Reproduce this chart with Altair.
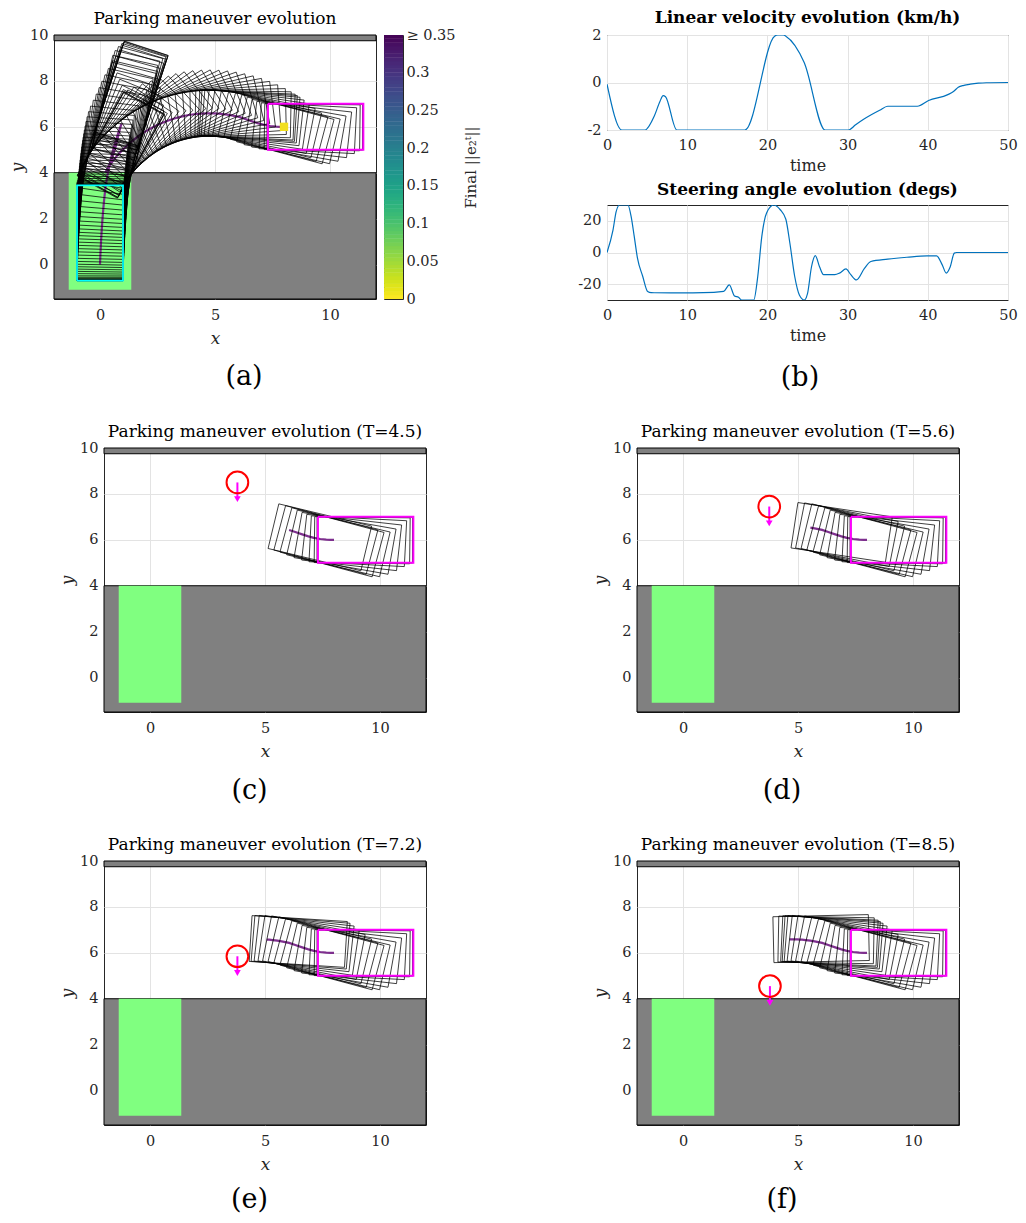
import math
import altair as alt
import pandas as pd

FONT = "DejaVu Serif"
INK = "#262626"
GRID = "#e3e3e3"

# ---------------- data ----------------
# car reference-point poses every 0.5 s (t = 0 ... 50)
pose_x = [8.000, 7.963, 7.850, 7.663, 7.401, 7.126, 6.854, 6.585, 6.317, 6.048,
          5.777, 5.539, 5.334, 5.177, 5.074, 4.992, 4.846, 4.631, 4.357, 4.081,
          3.806, 3.535, 3.266, 3.002, 2.743, 2.489, 2.242, 2.002, 1.769, 1.545,
          1.329, 1.122, 0.923, 0.736, 0.562, 0.406, 0.302, 0.242, 0.220, 0.235,
          0.284, 0.366, 0.470, 0.568, 0.651, 0.720, 0.776, 0.824, 0.867, 0.906,
          0.934, 0.939, 0.919, 0.874, 0.804, 0.717, 0.636, 0.561, 0.493, 0.430,
          0.372, 0.320, 0.277, 0.242, 0.214, 0.191, 0.170, 0.153, 0.139, 0.126,
          0.114, 0.103, 0.094, 0.084, 0.076, 0.066, 0.059, 0.050, 0.043, 0.036,
          0.030, 0.025, 0.020, 0.016, 0.012, 0.008, 0.006, 0.004, 0.003, 0.002,
          0.001, 0.000, 0.000, 0.000, 0.000, 0.000, 0.000, 0.000, 0.000, 0.000,
          0.000]
pose_y = [6.000, 6.000, 6.001, 6.009, 6.036, 6.088, 6.161, 6.250, 6.343, 6.431,
          6.490, 6.530, 6.557, 6.572, 6.579, 6.583, 6.588, 6.588, 6.575, 6.547,
          6.504, 6.447, 6.375, 6.290, 6.190, 6.077, 5.950, 5.811, 5.659, 5.495,
          5.319, 5.135, 4.941, 4.735, 4.519, 4.297, 4.132, 4.028, 3.989, 4.015,
          4.108, 4.268, 4.502, 4.762, 5.027, 5.292, 5.531, 5.737, 5.906, 6.041,
          6.129, 6.145, 6.089, 5.961, 5.761, 5.494, 5.226, 4.956, 4.685, 4.412,
          4.139, 3.869, 3.613, 3.370, 3.140, 2.926, 2.725, 2.537, 2.364, 2.205,
          2.059, 1.920, 1.781, 1.642, 1.504, 1.365, 1.226, 1.087, 0.948, 0.815,
          0.695, 0.588, 0.486, 0.388, 0.295, 0.207, 0.146, 0.100, 0.071, 0.049,
          0.033, 0.023, 0.015, 0.009, 0.006, 0.004, 0.003, 0.002, 0.001, 0.000,
          0.000]
pose_th = [0.0, -0.07, -0.73, -2.92, -6.39, -10.07, -13.32, -15.03, -14.81, -13.52,
           -11.24, -8.66, -6.41, -4.68, -3.55, -2.65, -1.06, 1.29, 4.29, 7.33,
           10.37, 13.41, 16.45, 19.49, 22.53, 25.57, 28.61, 31.65, 34.69, 37.73,
           40.43, 42.81, 45.92, 49.35, 53.02, 56.60, 59.18, 60.77, 61.07, 61.17,
           62.10, 64.25, 67.63, 71.06, 74.12, 76.58, 77.32, 76.47, 74.85, 73.11,
           71.96, 71.84, 71.95, 72.20, 73.01, 74.33, 75.65, 76.97, 78.25, 79.38,
           80.36, 81.56, 82.94, 84.30, 85.28, 85.94, 86.38, 86.73, 87.03, 87.29,
           87.50, 87.69, 87.87, 88.04, 88.20, 88.34, 88.48, 88.61, 88.73, 88.83,
           88.91, 88.98, 89.05, 89.19, 89.51, 89.87, 90.0, 90.0, 90.0, 90.0,
           90.0, 90.0, 90.0, 90.0, 90.0, 90.0, 90.0, 90.0, 90.0, 90.0,
           90.0]
pose_t = [i * 0.5 for i in range(len(pose_x))]

# car footprint relative to the reference point
CAR_REAR, CAR_FRONT, CAR_HALFW = 0.7, 3.45, 1.0
start_pose = [8.0, 6.0, 0.0]
goal_pose = [0.0, 0.0, 90.0]

# static obstacles and the parking slot
obst_x1 = [-2.0, -2.0]
obst_x2 = [12.0, 12.0]
obst_y1 = [-1.5, 9.75]
obst_y2 = [4.0, 10.0]
slot_x1, slot_x2, slot_y1, slot_y2 = [-1.36], [1.36], [-1.1], [4.0]

# control signals
vel_t = [0, 1.85, 4.74, 5.9, 6.6, 7.0, 7.3, 8.7, 17.2, 20.9, 21.3, 22.0, 22.3,
         24.6, 27.2, 30.1, 31.0, 32.0, 33.0, 34.0, 35.0, 38.7, 40.1, 42.5, 43.2,
         43.8, 44.5, 45.3, 46.3, 47.3, 50]
vel_v = [-0.07, -2, -2, -1.41, -0.8, -0.55, -0.6, -2, -2, 1.95, 2.0, 2.0, 1.95,
         0.83, -2, -2, -1.78, -1.55, -1.35, -1.17, -1.0, -1.0, -0.76, -0.51, -0.38,
         -0.2, -0.12, -0.07, -0.03, -0.01, 0]
steer_t = [0, 0.74, 1.15, 1.57, 2.6, 3.0, 3.4, 3.8, 4.45, 5.07, 5.5, 8, 12, 14.55,
           15.25, 15.9, 16.4, 16.8, 18.3, 18.8, 19.3, 19.9, 20.8, 21.6, 22.3, 22.8,
           23.4, 24.0, 24.6, 25.0, 25.5, 25.97, 26.5, 27.0, 28.4, 29.0, 29.8, 30.4,
           31.1, 32.1, 32.9, 35, 37.4, 39.9, 41.1, 41.8, 42.3, 42.8, 43.3, 43.6, 50]
steer_v = [0, 14, 26, 30, 30, 23, 10, -3.6, -15, -24.7, -25.4, -25.5, -25.4, -24.5,
           -20.5, -27.5, -28.3, -30, -30, -15, 10, 25, 30, 27, 21, 6,
           -15, -27, -30, -26, -9, -2, -9, -14, -14, -13, -10.4, -14,
           -17.3, -10, -5.7, -4.2, -3, -2.1, -2.1, -7.8, -13, -9, -0.4, 0, 0]

# moving obstacle snapshots
snap_T = [4.5, 5.6, 7.2, 8.5]
snap_label = ["(c)", "(d)", "(e)", "(f)"]
ped_x = [3.8, 3.75, 3.8, 3.78]
ped_y = [8.5, 7.45, 5.85, 4.55]
ped_dy = [-0.9, -0.9, -0.9, -0.9]

# colour bar ticks
cb_ticks = [0, 0.05, 0.1, 0.15, 0.2, 0.25, 0.3, 0.35]

# ---------------- helpers ----------------
pose_df = pd.DataFrame({"t": pose_t, "x": pose_x, "y": pose_y, "th": pose_th})
obst_df = pd.DataFrame({"x1": obst_x1, "x2": obst_x2, "y1": obst_y1, "y2": obst_y2})
slot_df = pd.DataFrame({"x1": slot_x1, "x2": slot_x2, "y1": slot_y1, "y2": slot_y2})
one_df = pd.DataFrame({"a": [0]})

PW, PH = 322, 264        # parking panels
BW = 401                 # panel (b) plots


def outline(xs, ys, ths):
    corners = [(-CAR_REAR, CAR_HALFW), (CAR_FRONT, CAR_HALFW), (CAR_FRONT, -CAR_HALFW),
               (-CAR_REAR, -CAR_HALFW), (-CAR_REAR, CAR_HALFW)]
    rows = []
    for i, (x, y, th) in enumerate(zip(xs, ys, ths)):
        c, s = math.cos(math.radians(th)), math.sin(math.radians(th))
        for k, (lx, ly) in enumerate(corners):
            rows.append({"id": i, "k": k, "x": x + lx * c - ly * s, "y": y + lx * s + ly * c})
    return pd.DataFrame(rows)


def text_at(text, px, py, size, weight="normal", baseline="middle"):
    return alt.Chart(one_df).mark_text(text=text, font=FONT, fontSize=size, fontWeight=weight,
                                       color="black", align="center", baseline=baseline).encode(
        x=alt.value(px), y=alt.value(py))


def sub_label(text, px, py):
    return text_at(text, px, py, 27)


def title_text(text, px, gap, size=17, weight="normal"):
    return text_at(text, px, -gap, size, weight, "alphabetic")


XS = alt.Scale(domain=[-2, 12], nice=False, zero=False)
YS = alt.Scale(domain=[-1.5, 10], nice=False, zero=False)

COMMON_AX = dict(grid=True, gridColor=GRID, gridWidth=1, ticks=False, domain=False,
                 labelFont=FONT, labelFontSize=14.5, labelColor=INK, labelFlush=False,
                 titleFont=FONT, titleFontWeight="normal", titleColor=INK)


def ax_x():
    return alt.Axis(values=[0, 5, 10], title="x", titleFontStyle="italic", titleFontSize=17,
                    labelPadding=9, titlePadding=9, **COMMON_AX)


def ax_y():
    return alt.Axis(values=[0, 2, 4, 6, 8, 10], title="y", titleFontStyle="italic",
                    titleFontSize=17, labelPadding=6, titlePadding=3, **COMMON_AX)


def X(f):
    return alt.X(f"{f}:Q", scale=XS, axis=ax_x())


def Y(f):
    return alt.Y(f"{f}:Q", scale=YS, axis=ax_y())


def park_panel(title, label, label_x, label_y, T=None, snap=None):
    sel = pose_df if T is None else pose_df[pose_df["t"] <= T + 1e-9]
    layers = [
        alt.Chart(obst_df).mark_rect(fill="#808080", stroke="black", strokeWidth=1).encode(
            x=X("x1"), x2="x2:Q", y=Y("y1"), y2="y2:Q"),
        alt.Chart(slot_df).mark_rect(fill="#80FF80").encode(
            x=X("x1"), x2="x2:Q", y=Y("y1"), y2="y2:Q"),
        alt.Chart(sel).mark_line(color="#7E2F8E", strokeWidth=2.2).encode(
            x=X("x"), y=Y("y"), order="t:Q"),
        alt.Chart(outline(sel["x"], sel["y"], sel["th"])).mark_line(
            color="black", strokeWidth=0.75).encode(
            x=X("x"), y=Y("y"), detail="id:N", order="k:Q"),
    ]
    if T is None:
        layers.append(alt.Chart(outline([goal_pose[0]], [goal_pose[1]], [goal_pose[2]])).mark_line(
            color="#00FFFF", strokeWidth=1.8).encode(x=X("x"), y=Y("y"), order="k:Q"))
    layers.append(alt.Chart(outline([start_pose[0]], [start_pose[1]], [start_pose[2]])).mark_line(
        color="#FF00FF", strokeWidth=2).encode(x=X("x"), y=Y("y"), order="k:Q"))
    if T is None:
        sp = pd.DataFrame({"x": [start_pose[0]], "y": [start_pose[1]]})
        layers.append(alt.Chart(sp).mark_square(size=70, color="#F2DF1E", opacity=1).encode(
            x=X("x"), y=Y("y")))
    if snap is not None:
        i = snap
        pdf = pd.DataFrame({"x": [ped_x[i]], "y": [ped_y[i]],
                            "y2": [ped_y[i] + ped_dy[i] * 0.75],
                            "yh": [ped_y[i] + ped_dy[i] + 0.17]})
        layers.append(alt.Chart(pdf).mark_rule(color="#FF00FF", strokeWidth=2).encode(
            x=X("x"), y=Y("y"), y2="y2:Q"))
        layers.append(alt.Chart(pdf).mark_point(shape="triangle-down", filled=True,
                                                color="#FF00FF", size=45, opacity=1).encode(
            x=X("x"), y=Y("yh")))
        layers.append(alt.Chart(pdf).mark_point(shape="circle", filled=False, color="red",
                                                strokeWidth=2, size=470, opacity=1).encode(
            x=X("x"), y=Y("y")))
    layers.append(title_text(title, PW / 2, 11.3 if T is None else 10.6))
    layers.append(sub_label(label, label_x, label_y))
    return alt.layer(*layers).properties(width=PW, height=PH)


# ---------------- panel (a) ----------------
panel_a = park_panel("Parking maneuver evolution", "(a)", 190, 342)

cb_lo = [i * 0.005 for i in range(70)]
cb_df = pd.DataFrame({"lo": cb_lo, "hi": [v + 0.0055 for v in cb_lo],
                      "mid": [v + 0.0025 for v in cb_lo]})
colorbar = alt.Chart(cb_df).mark_rect(clip=True).encode(
    x=alt.value(0), x2=alt.value(19),
    y=alt.Y("lo:Q", scale=alt.Scale(domain=[0, 0.35], nice=False, zero=False),
            axis=alt.Axis(orient="right", values=cb_ticks, grid=False, ticks=False, domain=False,
                          labelExpr="datum.value >= 0.345 ? '\u2265 0.35' : toString(round(datum.value * 100) / 100)",
                          labelFont=FONT, labelFontSize=14.5, labelColor=INK, labelPadding=3,
                          labelFlush=False,
                          title="Final ||e\u2082\u1d57||", titleAngle=270, titleBaseline="top",
                          titleFont=FONT, titleFontSize=15, titleFontWeight="normal",
                          titleColor=INK, titlePadding=8)),
    y2="hi:Q",
    color=alt.Color("mid:Q", scale=alt.Scale(scheme="viridis", reverse=True, domain=[0, 0.35]),
                    legend=None),
).properties(width=19, height=PH)

cell_a = alt.hconcat(panel_a, colorbar, spacing=8, bounds="flush")

# ---------------- panel (b) ----------------
def b_x(title):
    return alt.X("t:Q", scale=alt.Scale(domain=[0, 50], nice=False, zero=False),
                 axis=alt.Axis(values=[0, 10, 20, 30, 40, 50], title=title, labelPadding=8,
                               titlePadding=6, titleFontSize=16, **COMMON_AX))


vel_chart = alt.layer(
    alt.Chart(pd.DataFrame({"t": vel_t, "v": vel_v})).mark_line(
        color="#0072BD", strokeWidth=1.2, interpolate="monotone", clip=True).encode(
        x=b_x("time"),
        y=alt.Y("v:Q", scale=alt.Scale(domain=[-2, 2], nice=False, zero=False),
                axis=alt.Axis(values=[-2, 0, 2], title=None, labelExpr="toString(datum.value)",
                              labelPadding=6, **COMMON_AX))),
    title_text("Linear velocity evolution (km/h)", BW / 2, 12.5, 17, "bold"),
).properties(width=BW, height=95)

steer_chart = alt.layer(
    alt.Chart(pd.DataFrame({"t": steer_t, "d": steer_v})).mark_line(
        color="#0072BD", strokeWidth=1.2, interpolate="monotone", clip=True).encode(
        x=b_x("time"),
        y=alt.Y("d:Q", scale=alt.Scale(domain=[-30, 30], nice=False, zero=False),
                axis=alt.Axis(values=[-20, 0, 20], title=None, labelExpr="toString(datum.value)",
                              labelPadding=6, **COMMON_AX))),
    title_text("Steering angle evolution (degs)", BW / 2, 10, 17, "bold"),
    sub_label("(b)", 193, 173),
).properties(width=BW, height=95)

cell_b = alt.vconcat(vel_chart, steer_chart, spacing=75, bounds="flush")

row1 = alt.hconcat(cell_a, cell_b, spacing=98)

# ---------------- panels (c)-(f) ----------------
def spacer():
    return alt.Chart(one_df).mark_rect(fill="white", opacity=0).encode(
        x=alt.value(0), x2=alt.value(4), y=alt.value(0), y2=alt.value(4)).properties(
        width=4, height=4, view=alt.ViewBackground(strokeOpacity=0))


cells = []
for i, T in enumerate(snap_T):
    ly = 343 if i < 2 else 339
    lx = 145.5 if i % 2 == 0 else 145
    cells.append(park_panel(f"Parking maneuver evolution (T={T})", snap_label[i], lx, ly,
                            T=T, snap=i))

row2 = alt.hconcat(spacer(), alt.hconcat(cells[0], cells[1], spacing=164), spacing=0)
row3 = alt.hconcat(spacer(), alt.hconcat(cells[2], cells[3], spacing=164), spacing=0)

chart = alt.vconcat(row1, row2, row3, spacing=30).properties(
    padding={"left": 0, "top": 0, "right": 0, "bottom": 0}
).configure(font=FONT).configure_view(stroke=INK, strokeWidth=1)

chart.save("out.html", embed_options={"renderer": "svg", "actions": False})
